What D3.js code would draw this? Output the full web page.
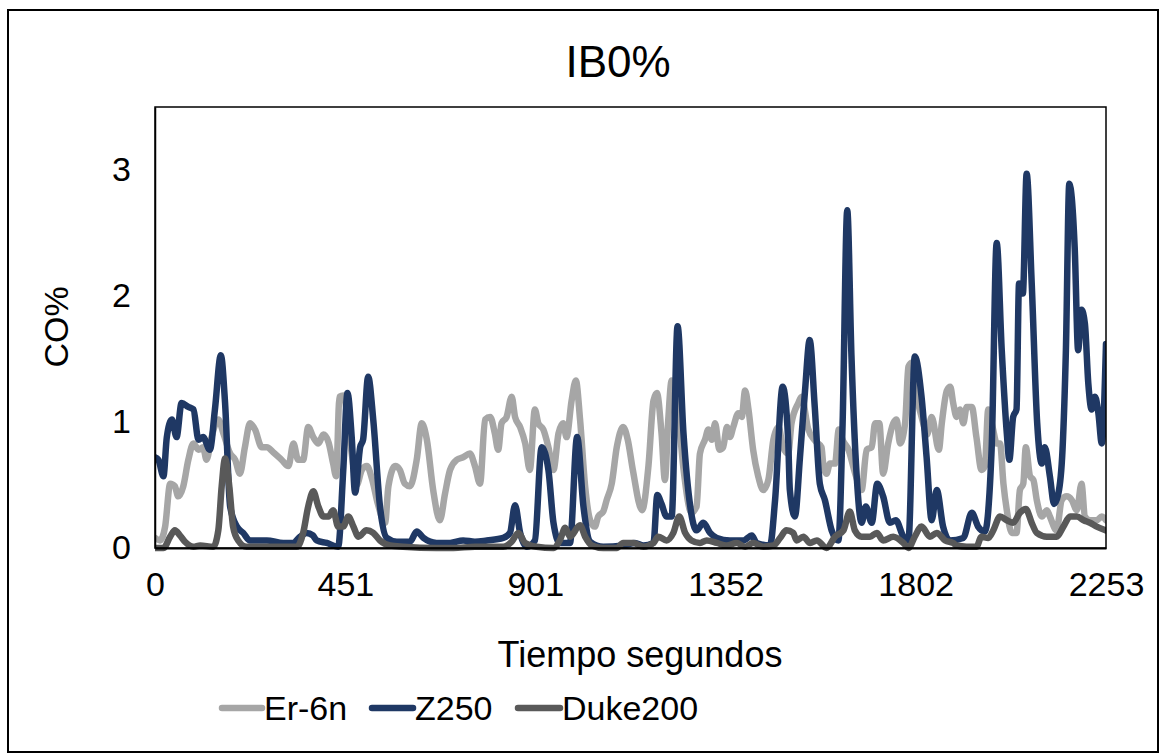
<!DOCTYPE html>
<html>
<head>
<meta charset="utf-8">
<script src="https://cdn.jsdelivr.net/npm/d3@7"></script>
<style>
  html, body { margin: 0; padding: 0; background: #fff; }
  svg { display: block; }
  text { font-family: "Liberation Sans", Arial, sans-serif; fill: #000; }
</style>
</head>
<body>
<svg id="chart" width="1164" height="753"></svg>
<script>
// ---- Data ----
const chartTitle = "IB0%";
const xAxisTitle = "Tiempo segundos";
const yAxisTitle = "CO%";
const xTickValues = [0, 451, 901, 1352, 1802, 2253];
const yTickValues = [0, 1, 2, 3];
const seriesNames = ["Er-6n", "Z250", "Duke200"];

const erTime = [0,12,24,36,47,55,67,79,91,103,
  114,122,134,150,162,178,190,201,213,225,
  237,253,265,280,300,316,328,339,351,363,
  375,387,399,411,422,429,437,446,466,478,
  490,502,514,528,545,553,569,580,592,604,
  620,632,644,659,675,687,699,715,730,746,
  758,770,782,794,805,813,821,833,845,853,
  865,877,888,900,908,920,932,944,956,967,
  975,987,997,1007,1019,1031,1042,1050,1062,1070,
  1082,1094,1109,1120,1132,1154,1169,1181,1189,1200,
  1208,1216,1224,1241,1253,1271,1283,1291,1303,1311,
  1319,1327,1337,1346,1355,1362,1370,1382,1390,1398,
  1406,1417,1429,1441,1453,1465,1477,1488,1500,1508,
  1524,1532,1547,1564,1579,1583,1591,1599,1611,1620,
  1630,1643,1658,1674,1686,1698,1706,1716,1725,1737,
  1749,1757,1765,1777,1785,1793,1805,1820,1829,1840,
  1857,1864,1876,1884,1891,1899,1907,1915,1923,1935,
  1946,1958,1966,1974,1985,1994,2002,2010,2018,2030,
  2041,2049,2057,2063,2073,2081,2089,2101,2113,2120,
  2136,2148,2160,2172,2184,2195,2203,2215,2231,2243,
  2253];
const erValues = [.08,.06,.17,.51,.49,.41,.49,.70,.83,.78,
  .80,.70,.88,1.02,.91,.75,.70,.59,.80,.99,
  .94,.80,.80,.76,.70,.65,.83,.70,.70,.96,
  .88,.83,.90,.84,.67,.57,1.20,1.21,.75,.50,
  .62,.65,.55,.35,.20,.49,.65,.62,.51,.49,
  .70,.99,.86,.46,.22,.43,.62,.70,.72,.75,
  .65,.51,1.02,1.04,.91,.78,.99,1.04,1.20,1.04,
  .96,.83,.62,1.10,.99,.94,.80,.62,.91,.99,
  .88,1.17,1.33,1.02,.49,.22,.17,.25,.29,.38,
  .51,.80,.96,.86,.62,.30,.65,1.17,1.23,.91,
  .54,1.02,1.33,1.0,.6,.28,.33,.75,.86,.94,
  .86,.99,.78,.80,.96,.88,.96,1.07,1.04,1.25,
  1.10,.78,.57,.46,.54,.86,.96,.80,.75,.99,
  1.15,1.20,.95,.85,.80,.67,.59,.67,.67,.94,
  .85,.78,.60,.46,.78,.80,.99,.99,.59,.83,
  .99,1.02,.83,.99,1.44,1.47,1.20,.99,.90,1.04,
  .78,.99,1.25,1.28,1.15,1.04,1.10,.99,1.12,1.12,
  .88,.62,.65,1.10,.95,.83,.83,.51,.30,.12,
  .12,.46,.51,.80,.57,.54,.38,.25,.30,.25,
  .14,.38,.41,.38,.30,.51,.25,.22,.22,.25,
  .22];

const zTime = [0,8,20,28,40,51,63,79,91,103,
  114,130,142,156,166,178,194,209,225,265,
  304,327,344,359,374,383,407,434,446,456,
  466,474,486,493,505,517,533,549,573,604,
  620,636,667,699,730,758,786,825,841,853,
  865,881,900,916,932,944,959,983,1000,1015,
  1031,1062,1109,1137,1157,1181,1190,1200,1212,1224,
  1238,1252,1268,1283,1299,1315,1331,1362,1394,1414,
  1425,1457,1469,1487,1500,1504,1516,1528,1540,1551,
  1563,1575,1587,1603,1619,1629,1640,1650,1662,1674,
  1684,1698,1711,1725,1741,1755,1773,1785,1800,1816,
  1828,1840,1852,1867,1883,1915,1935,1950,1966,1982,
  1994,2006,2018,2024,2033,2041,2047,2056,2065,2077,
  2090,2101,2108,2120,2130,2140,2150,2158,2166,2179,
  2187,2195,2203,2211,2219,2227,2235,2243,2253];
const zValues = [.72,.70,.57,.88,1.02,.88,1.15,1.12,1.10,.86,
  .88,.78,1.10,1.53,1.15,.33,.17,.12,.06,.06,
  .04,.04,.09,.12,.10,.06,.04,.01,.62,1.23,
  .88,.44,.80,.86,1.36,1.02,.33,.08,.05,.05,
  .13,.08,.04,.04,.06,.05,.06,.08,.12,.34,
  .12,.01,.06,.80,.62,.20,.04,.04,.88,.33,
  .05,.01,.02,.04,.02,.04,.42,.35,.25,.25,
  1.76,.91,.33,.14,.20,.12,.08,.06,.06,.10,
  .04,.02,.38,1.28,.86,.46,.25,.72,1.25,1.65,
  1.12,.51,.38,.14,.06,.99,2.68,1.52,.59,.20,
  .33,.20,.51,.41,.20,.22,.09,.06,1.52,1.20,
  .72,.22,.46,.17,.06,.08,.28,.17,.13,.78,
  2.42,1.57,.91,.70,1.04,1.10,2.10,2.02,2.97,2.10,
  .99,.67,.80,.57,.35,.43,.78,1.57,2.89,2.37,
  1.57,1.89,1.78,1.31,1.10,1.20,1.07,.83,1.62];

const dukeTime = [0,20,36,47,59,71,91,107,138,150,
  158,166,176,185,197,217,336,351,363,375,
  387,399,411,422,434,446,458,470,482,501,
  517,533,557,588,667,707,758,825,845,861,
  877,904,944,959,972,983,1007,1019,1035,1062,
  1094,1109,1133,1157,1181,1192,1212,1228,1242,1256,
  1271,1291,1307,1331,1354,1378,1398,1417,1441,1465,
  1481,1496,1512,1520,1536,1552,1568,1591,1611,1631,
  1646,1658,1674,1694,1710,1725,1749,1773,1785,1800,
  1816,1836,1852,1872,1891,1899,1923,1946,1958,1974,
  1986,2002,2018,2033,2049,2063,2077,2089,2113,2136,
  2152,2168,2184,2200,2215,2231,2253];
const dukeValues = [0,0,.09,.14,.10,.05,.01,.02,.01,.14,
  .49,.71,.49,.17,.06,.01,.01,.12,.33,.45,
  .33,.25,.25,.30,.17,.17,.25,.17,.09,.14,
  .12,.06,.02,.01,0,0,.01,.01,.05,.12,
  .04,.01,0,.06,.16,.09,.18,.09,.02,0,
  0,.04,.04,.01,.04,.09,.06,.12,.25,.12,
  .06,.04,.06,.04,.02,.04,.01,.04,.01,.02,
  .08,.14,.12,.06,.09,.04,.06,0,.09,.14,
  .29,.14,.09,.09,.12,.06,.09,.04,0,.09,
  .17,.09,.12,.06,.04,.02,.01,.01,.09,.08,
  .14,.25,.22,.20,.28,.31,.20,.12,.09,.09,
  .17,.25,.25,.22,.20,.17,.14];

const seriesColors = ["#a6a6a6", "#1f3864", "#595959"];

// ---- Build series ----
const zip = (ts, vs) => ts.map((t, i) => ({ t: t, v: vs[i] }));
const series = [
  { name: seriesNames[0], color: seriesColors[0], data: zip(erTime, erValues) },
  { name: seriesNames[1], color: seriesColors[1], data: zip(zTime, zValues) },
  { name: seriesNames[2], color: seriesColors[2], data: zip(dukeTime, dukeValues) }
];

// ---- Layout ----
const svg = d3.select("#chart");
const plot = { left: 155, right: 1106, top: 107, bottom: 548 };

const x = d3.scaleLinear().domain([0, 2253]).range([plot.left, plot.right]);
const y = d3.scaleLinear().domain([0, 3.5]).range([plot.bottom, plot.top]);

// outer chart frame
svg.append("rect")
  .attr("x", 8).attr("y", 10).attr("width", 1150).attr("height", 742)
  .attr("fill", "#fff").attr("stroke", "#000").attr("stroke-width", 2);

// title
svg.append("text")
  .attr("x", 618).attr("y", 77)
  .attr("text-anchor", "middle")
  .style("font-size", "44px")
  .text(chartTitle);

// clip path for plot
svg.append("defs").append("clipPath").attr("id", "plotClip")
  .append("rect")
  .attr("x", plot.left).attr("y", plot.top - 5)
  .attr("width", plot.right - plot.left).attr("height", plot.bottom - plot.top + 10);

// lines
const line = d3.line()
  .x(d => x(d.t))
  .y(d => y(d.v))
  .curve(d3.curveMonotoneX);

const g = svg.append("g").attr("clip-path", "url(#plotClip)");
series.forEach(s => {
  g.append("path")
    .datum(s.data)
    .attr("fill", "none")
    .attr("stroke", s.color)
    .attr("stroke-width", 6.5)
    .attr("stroke-linejoin", "round")
    .attr("stroke-linecap", "round")
    .attr("d", line);
});

// plot area border
svg.append("rect")
  .attr("x", plot.left).attr("y", plot.top)
  .attr("width", plot.right - plot.left).attr("height", plot.bottom - plot.top)
  .attr("fill", "none").attr("stroke", "#000").attr("stroke-width", 1.5);

// axes via d3 axis generators (no tick lines, only labels)
const xAxis = d3.axisBottom(x).tickValues(xTickValues).tickSize(0).tickPadding(24)
  .tickFormat(d3.format("d"));
const gx = svg.append("g").attr("transform", `translate(0,${plot.bottom})`).call(xAxis);
gx.select(".domain").attr("stroke", "#000").attr("stroke-width", 2);
gx.selectAll("text").style("font-size", "34px").style("font-family", '"Liberation Sans", Arial, sans-serif').attr("fill", "#000");

const yAxis = d3.axisLeft(y).tickValues(yTickValues).tickSize(0).tickPadding(24)
  .tickFormat(d3.format("d"));
const gy = svg.append("g").attr("transform", `translate(${plot.left},0)`).call(yAxis);
gy.select(".domain").attr("stroke", "#000").attr("stroke-width", 1.5);
gy.selectAll("text").style("font-size", "34px").style("font-family", '"Liberation Sans", Arial, sans-serif').attr("fill", "#000");

// axis titles
svg.append("text")
  .attr("x", 640).attr("y", 667)
  .attr("text-anchor", "middle")
  .style("font-size", "36px")
  .text(xAxisTitle);

svg.append("text")
  .attr("transform", "translate(68,327) rotate(-90)")
  .attr("text-anchor", "middle")
  .style("font-size", "34px")
  .text(yAxisTitle);

// legend
const legendItems = [
  { x0: 222, x1: 262 },
  { x0: 372, x1: 413 },
  { x0: 518, x1: 560 }
];
const legY = 708;
series.forEach((s, i) => {
  const it = legendItems[i];
  svg.append("line")
    .attr("x1", it.x0).attr("x2", it.x1)
    .attr("y1", legY).attr("y2", legY)
    .attr("stroke", s.color).attr("stroke-width", 6.5).attr("stroke-linecap", "round");
  svg.append("text")
    .attr("x", it.x1 + 2).attr("y", legY + 12)
    .style("font-size", "34px")
    .text(s.name);
});
</script>
</body>
</html>
